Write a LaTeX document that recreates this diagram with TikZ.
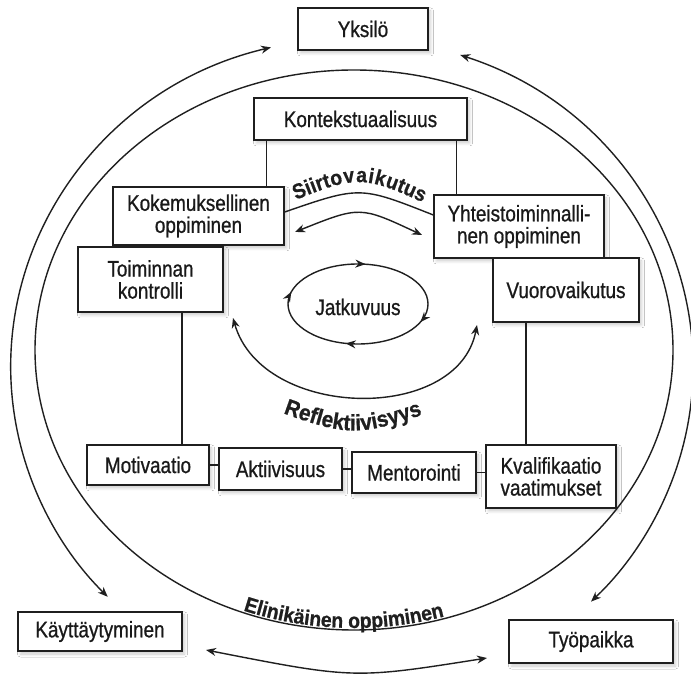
\documentclass[tikz,border=0pt]{standalone}
\usepackage{fontspec}
\setmainfont{Liberation Sans}[FakeStretch=0.84, FakeBold=0.8]
\newfontfamily\labelfont{Liberation Sans}[FakeStretch=0.92, FakeBold=0.8]
\usetikzlibrary{arrows.meta,calc,decorations.markings,decorations.text,shadows.blur}

\begin{document}
\begin{tikzpicture}[x=1pt,y=1pt,
  >={Stealth[length=10pt,width=8pt]},
  ink/.style={draw=black!88, line width=1.4pt},
  box/.style={ink, fill=white, inner sep=0pt, align=center,
    text=black!90, font=\fontsize{22.5}{22}\selectfont,
    blur shadow={shadow xshift=2.5pt, shadow yshift=-3pt,
      shadow opacity=20, shadow blur radius=3pt}},
  link/.style={ink},
  curvedlabel/.style={decorate, decoration={text along path,
    text align=center, raise=#1}},
]
\clip (0,0) rectangle (691,675);
\fill[white] (0,0) rectangle (691,675);

% big inner ellipse (lifelong learning)
\draw[ink] (354,325) ellipse[x radius=319, y radius=280];

% outer arcs between the three corner boxes
\coordinate (oL) at (271,627.6);
\draw[ink,<->] (oL) arc[start angle=103.7, end angle=224.3, x radius=341, y radius=329];
\coordinate (oR) at (460.2,620);
\draw[ink,<->] (oR) arc[start angle=71.5, end angle=-45.5, x radius=341, y radius=329];
\coordinate (b1) at (206,25);
\coordinate (b2) at (487,17);
\draw[ink,<->] (b1) .. controls (354,-4) .. (b2);

% boxes
\node[box, minimum width=130pt, minimum height=42pt] (yks) at (363,646) {Yksilö};
\node[box, minimum width=213pt, minimum height=42pt] (kon) at (360.5,556) {Kontekstuaalisuus};
\node[box, minimum width=171pt, minimum height=58pt] (kok) at (198.5,459) {Kokemuksellinen\\oppiminen};
\node[box, minimum width=170pt, minimum height=63pt] (yht) at (519,448.5) {Yhteistoiminnalli-\\nen oppiminen};
\node[box, minimum width=145pt, minimum height=65pt] (toi) at (150.5,395.5) {Toiminnan\\kontrolli};
\node[box, minimum width=146pt, minimum height=64pt] (vuo) at (566,385) {Vuorovaikutus};
\node[box, minimum width=122pt, minimum height=40pt] (mot) at (148,210) {Motivaatio};
\node[box, minimum width=123pt, minimum height=42pt] (akt) at (280.5,206) {Aktiivisuus};
\node[box, minimum width=124pt, minimum height=41pt] (men) at (414,202.5) {Mentorointi};
\node[box, minimum width=130pt, minimum height=63pt] (kva) at (551,198.5) {Kvalifikaatio\\vaatimukset};
\node[box, minimum width=164pt, minimum height=39pt] (kay) at (100,43.5) {Käyttäytyminen};
\node[box, minimum width=164pt, minimum height=43pt] (tyo) at (591,33.5) {Työpaikka};

% vertical links
\draw[link] ([xshift=13pt]kon.south west) coordinate (k1) -- (k1 |- kok.north);
\draw[link] ([xshift=-11pt]kon.south east) coordinate (k2) -- (k2 |- yht.north);
\draw[link] ([xshift=31.5pt]toi.south) coordinate (t1) -- (t1 |- mot.north);
\draw[link] ([xshift=-40pt]vuo.south) coordinate (v1) -- (v1 |- kva.north);

% horizontal links in the bottom row
\draw[link] (mot.east) -- (mot.east -| akt.west);
\draw[link] (akt.east) -- (akt.east -| men.west);
\draw[link] (men.east) -- (men.east -| kva.west);

% transfer arc with its label
\draw[ink] ([yshift=4pt]kok.east) coordinate (s0) .. controls (360,489) .. ([yshift=11.5pt]yht.west) coordinate (s3);
\path[curvedlabel=7pt, decoration={text={|\labelfont\bfseries\fontsize{21}{21}\selectfont\color{black!88}|Siirtovaikutus}}]
  (s0) .. controls (360,494) .. (s3);
\coordinate (s1) at (295,443);
\coordinate (s2) at (422,440);
\draw[ink,<->] (s1) .. controls (360,469) .. (s2);

% continuity loop
\node[font=\fontsize{22.5}{22}\selectfont, text=black!90] (jat) at (358,368) {Jatkuvuus};
\draw[ink, postaction={decorate}, decoration={markings,
    mark=at position 0.057 with {\arrow{>}},
    mark=at position 0.285 with {\arrow{>}},
    mark=at position 0.536 with {\arrow{>}},
    mark=at position 0.771 with {\arrow{>}}}]
  (428,371) arc[start angle=0, end angle=-360, x radius=70, y radius=40];

% reflectivity arc and label
\coordinate (r1) at (233,357);
\coordinate (r2) at (477,350);
\draw[ink,<->] (r1) .. controls (262,255) and (458,251) .. (r2);
\path[curvedlabel=0pt, decoration={text={|\labelfont\bfseries\fontsize{22.5}{22}\selectfont\color{black!88}|Reflektiivisyys}}]
  (258,271) .. controls (353,236) .. (448,269);

% lifelong learning label along the big ellipse
\path[curvedlabel=2pt, decoration={text={|\labelfont\bfseries\fontsize{21}{21}\selectfont\color{black!88}|Elinikäinen oppiminen}}]
  (166.5,98.5) arc[start angle=234, end angle=302, x radius=319, y radius=280];
\end{tikzpicture}
\end{document}
